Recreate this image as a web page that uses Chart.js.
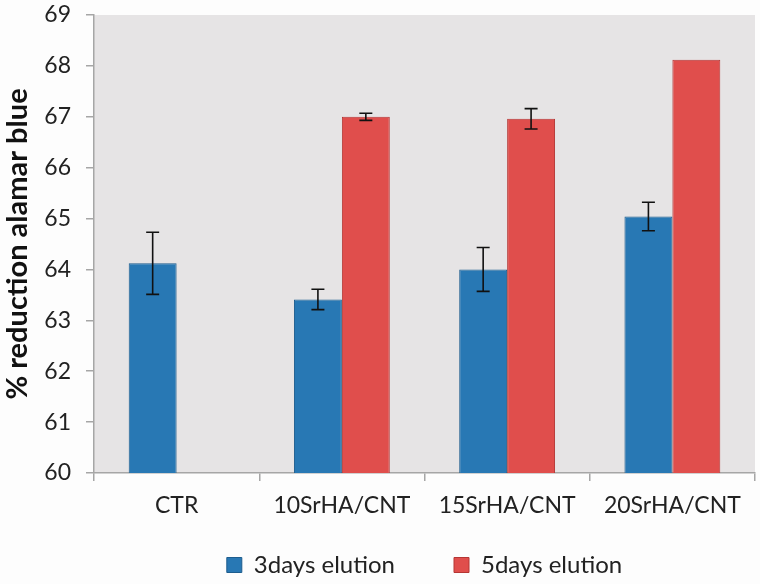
<!DOCTYPE html>
<html>
<head>
<meta charset="utf-8">
<script src="https://cdn.jsdelivr.net/npm/chart.js@4"></script>
<style>
    html, body { margin: 0; padding: 0; background: #fdfdfd; }
    #wrap { width: 760px; height: 584px; }
</style>
</head>
<body>
<div id="wrap"><canvas id="chart" width="760" height="584"></canvas></div>
<script>
const categories = ["CTR", "10SrHA/CNT", "15SrHA/CNT", "20SrHA/CNT"];
const threeDays = [64.12, 63.41, 64.0, 65.04];
const threeDaysErr = [0.61, 0.2, 0.43, 0.28];
const fiveDays = [null, 67.0, 66.96, 68.12];
const fiveDaysErr = [null, 0.07, 0.2, null];

const AXIS_COLOR = "#a6a6a6";
const FONT = "Lato, 'Open Sans', sans-serif";

// grey plot background
const plotBackground = {
    id: "plotBackground",
    beforeDraw(chart) {
        const a = chart.chartArea;
        const ctx = chart.ctx;
        ctx.save();
        ctx.fillStyle = "#e6e4e5";
        ctx.fillRect(a.left, a.top, a.right - a.left, a.bottom - a.top);
        ctx.restore();
    }
};

// error bars drawn from the error arrays through the y scale
const errorBars = {
    id: "errorBars",
    afterDatasetsDraw(chart) {
        const ctx = chart.ctx;
        const y = chart.scales.y;
        const errs = [threeDaysErr, fiveDaysErr];
        ctx.save();
        ctx.strokeStyle = "#111";
        ctx.lineWidth = 1.6;
        chart.data.datasets.forEach((ds, di) => {
            const meta = chart.getDatasetMeta(di);
            meta.data.forEach((bar, i) => {
                const v = ds.data[i];
                const e = errs[di][i];
                if (v == null || !e) return;
                const top = y.getPixelForValue(v + e);
                const bottom = y.getPixelForValue(v - e);
                ctx.beginPath();
                ctx.moveTo(bar.x, top);
                ctx.lineTo(bar.x, bottom);
                ctx.moveTo(bar.x - 6.5, top);
                ctx.lineTo(bar.x + 6.5, top);
                ctx.moveTo(bar.x - 6.5, bottom);
                ctx.lineTo(bar.x + 6.5, bottom);
                ctx.stroke();
            });
        });
        ctx.restore();
    }
};

new Chart(document.getElementById("chart"), {
    type: "bar",
    data: {
        labels: categories,
        datasets: [
            {
                label: "3days elution",
                data: threeDays,
                backgroundColor: "#2878b4",
                borderColor: "#1d5d8e",
                borderWidth: 1,
            },
            {
                label: "5days elution",
                data: fiveDays,
                backgroundColor: "#e04e4c",
                borderColor: "#b53634",
                borderWidth: 1,
            },
        ],
    },
    options: {
        responsive: false,
        animation: false,
        categoryPercentage: 0.58,
        barPercentage: 1.0,
        layout: {
            padding: { top: 15, right: 5, left: 0, bottom: -3 },
        },
        plugins: {
            tooltip: { enabled: false },
            legend: {
                position: "bottom",
                fullSize: false,
                labels: {
                    boxWidth: 15,
                    boxHeight: 15,
                    padding: 59,
                    color: "#222",
                    font: { family: FONT, size: 24 },
                },
            },
        },
        scales: {
            x: {
                afterFit(scale) { scale.height = 21; },
                border: { color: AXIS_COLOR, width: 1.5 },
                grid: {
                    offset: true,
                    drawOnChartArea: false,
                    color: AXIS_COLOR,
                    lineWidth: 1.5,
                    tickLength: 8,
                },
                ticks: {
                    // mirror keeps the labels from being clipped to the short axis box
                    mirror: true,
                    padding: -46,
                    color: "#222",
                    font: { family: FONT, size: 23 },
                },
            },
            y: {
                min: 60,
                max: 69,
                afterFit(scale) {
                    scale.width = 94;
                    scale.paddingTop = 0;
                    scale.paddingBottom = 0;
                },
                border: { color: AXIS_COLOR, width: 1.5 },
                grid: {
                    drawOnChartArea: false,
                    color: AXIS_COLOR,
                    lineWidth: 1.5,
                    tickLength: 8,
                },
                ticks: {
                    stepSize: 1,
                    color: "#222",
                    padding: 15,
                    font: { family: FONT, size: 23 },
                },
                title: {
                    display: true,
                    text: "% reduction alamar blue",
                    color: "#111",
                    padding: { top: 0, bottom: 0 },
                    font: { family: FONT, size: 29, weight: "bold" },
                },
            },
        },
    },
    plugins: [plotBackground, errorBars],
});
</script>
</body>
</html>
